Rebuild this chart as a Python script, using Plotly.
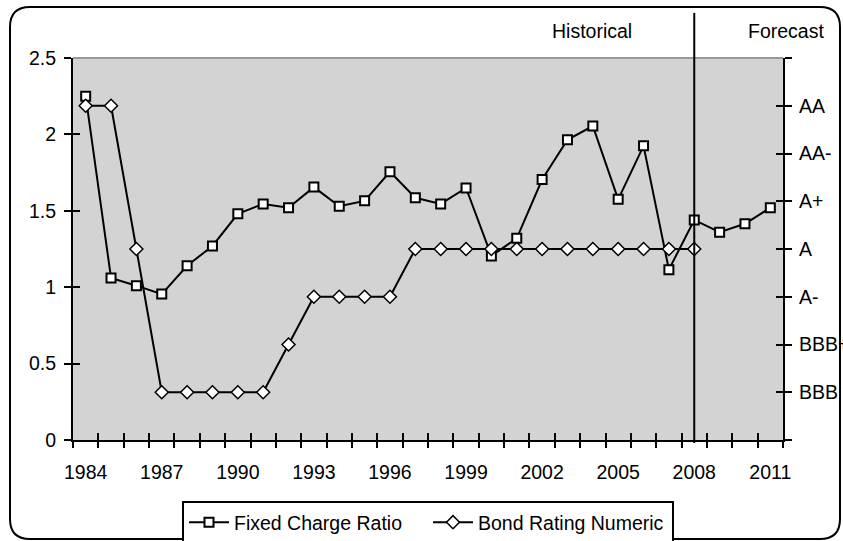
import plotly.graph_objects as go

# ---- data -------------------------------------------------------------
years = list(range(1984, 2012))

fixed_charge_ratio = [2.25, 1.06, 1.01, 0.955, 1.14, 1.27, 1.48, 1.545, 1.52, 1.655,
                      1.53, 1.565, 1.755, 1.585, 1.545, 1.65, 1.205, 1.32, 1.705, 1.965,
                      2.055, 1.575, 1.925, 1.115, 1.44, 1.36, 1.415, 1.52]

# numeric bond rating: 1 = BBB ... 7 = AA (no rating for forecast years)
bond_rating_numeric = [7, 7, 4, 1, 1, 1, 1, 1, 2, 3, 3, 3, 3,
                       4, 4, 4, 4, 4, 4, 4, 4, 4, 4, 4, 4,
                       None, None, None]

rating_labels = ["", "BBB", "BBB+", "A-", "A", "A+", "AA-", "AA", ""]
left_ticks = [0, 0.5, 1, 1.5, 2, 2.5]
label_years = years[::3]
forecast_start = 2008

FONT = "Liberation Sans, Arial, sans-serif"
FS = 19.5

# ---- layout geometry (pixels) ----------------------------------------
W, H = 843, 541
PL, PR, PT, PB = 73, 783, 58, 440


def pxx(x):
    return (x - PL) / (PR - PL)


def pxy(y):
    return (PB - y) / (PB - PT)


idx = list(range(len(years)))

fig = go.Figure()

fig.add_trace(go.Scatter(
    x=idx, y=fixed_charge_ratio, name="Fixed Charge Ratio",
    mode="lines+markers",
    line=dict(color="black", width=2),
    marker=dict(symbol="square", size=9, color="white",
                line=dict(color="black", width=2)),
    xaxis="x", yaxis="y",
))

fig.add_trace(go.Scatter(
    x=idx, y=bond_rating_numeric, name="Bond Rating Numeric",
    mode="lines+markers",
    line=dict(color="black", width=2),
    marker=dict(symbol="diamond", size=10, color="white",
                line=dict(color="black", width=1.5)),
    xaxis="x", yaxis="y2",
))

xr = [-0.5, len(years) - 0.5]
boundaries = [i - 0.5 for i in range(len(years) + 1)]

axis_common = dict(showgrid=False, zeroline=False, color="black", automargin=False,
                   tickfont=dict(family=FONT, size=FS, color="black"))
overlay_common = dict(showticklabels=False, showline=False, showgrid=False,
                      zeroline=False, automargin=False, ticklen=7, tickwidth=2,
                      tickcolor="black", tickmode="array")

fig.update_layout(
    width=W, height=H,
    margin=dict(l=PL, r=W - PR, t=PT, b=H - PB, pad=0, autoexpand=False),
    paper_bgcolor="white",
    plot_bgcolor="#d3d3d3",
    font=dict(family=FONT, size=FS, color="black"),
    showlegend=True,
    legend=dict(
        orientation="h", xref="container", yref="container",
        x=428 / W, xanchor="center",
        y=1 - 501 / H, yanchor="top",
        bordercolor="black", borderwidth=2, bgcolor="white",
        font=dict(family=FONT, size=FS, color="black"),
        itemwidth=40, entrywidth=189,
    ),
    # category labels
    xaxis=dict(range=xr, tickmode="array",
               tickvals=[years.index(y) for y in label_years],
               ticktext=[str(y) for y in label_years],
               ticks="", showline=True, linecolor="black", linewidth=2,
               ticklabelstandoff=14, **axis_common),
    # tick marks between categories (outside and inside)
    xaxis2=dict(range=xr, overlaying="x", anchor="y", side="bottom",
                tickvals=boundaries, ticks="outside", **overlay_common),
    xaxis3=dict(range=xr, overlaying="x", anchor="y", side="bottom",
                tickvals=boundaries, ticks="inside", **overlay_common),
    yaxis=dict(range=[0, 2.5], tickmode="array", tickvals=left_ticks,
               ticktext=[f"{v:g}" for v in left_ticks],
               ticks="outside", ticklen=7, tickwidth=2, tickcolor="black",
               showline=True, linecolor="black", linewidth=2,
               ticklabelstandoff=4, **axis_common),
    yaxis3=dict(range=[0, 2.5], overlaying="y", anchor="x", side="left",
                tickvals=left_ticks, ticks="inside", **overlay_common),
    yaxis2=dict(range=[0, 8], overlaying="y", anchor="x", side="right",
                tickmode="array", tickvals=list(range(len(rating_labels))),
                ticktext=rating_labels,
                ticks="outside", ticklen=7, tickwidth=2, tickcolor="black",
                showline=True, linecolor="black", linewidth=2,
                ticklabelstandoff=3, **axis_common),
    yaxis4=dict(range=[0, 8], overlaying="y", anchor="x", side="right",
                tickvals=list(range(len(rating_labels))), ticks="inside",
                **overlay_common),
)

# empty traces so the overlay axes are drawn
for xa, ya in [("x2", "y"), ("x3", "y"), ("x", "y3"), ("x", "y4")]:
    fig.add_trace(go.Scatter(x=[None], y=[None], xaxis=xa, yaxis=ya,
                             showlegend=False, hoverinfo="skip"))

# gray border along the top of the plot area
fig.add_shape(type="line", xref="paper", yref="paper", x0=0, x1=1, y0=1, y1=1,
              line=dict(color="#999999", width=2), layer="above")

# divider between historical and forecast periods
xf = years.index(forecast_start)
fig.add_shape(type="line", xref="x", yref="paper", x0=xf, x1=xf,
              y0=pxy(443), y1=pxy(13), line=dict(color="black", width=2),
              layer="above")

fig.add_annotation(text="Historical", xref="paper", yref="paper",
                   x=pxx(592), y=pxy(31), showarrow=False,
                   xanchor="center", yanchor="middle",
                   font=dict(family=FONT, size=FS, color="black"))
fig.add_annotation(text="Forecast", xref="paper", yref="paper",
                   x=pxx(786), y=pxy(31), showarrow=False,
                   xanchor="center", yanchor="middle",
                   font=dict(family=FONT, size=FS, color="black"))

# rounded outer frame
L, R, T, B, r = 10, 840, 7, 539, 20
pts = [
    ("M", L + r, T), ("L", R - r, T), ("Q", R, T, R, T + r),
    ("L", R, B - r), ("Q", R, B, R - r, B), ("L", L + r, B),
    ("Q", L, B, L, B - r), ("L", L, T + r), ("Q", L, T, L + r, T),
]
path = ""
for p in pts:
    cmd, coords = p[0], p[1:]
    xy = []
    for i in range(0, len(coords), 2):
        xy.append(f"{pxx(coords[i]):.5f},{pxy(coords[i + 1]):.5f}")
    path += cmd + " " + " ".join(xy) + " "
path += "Z"
fig.add_shape(type="path", xref="paper", yref="paper", path=path,
              line=dict(color="black", width=2), layer="above")

fig.write_html("out.html")
